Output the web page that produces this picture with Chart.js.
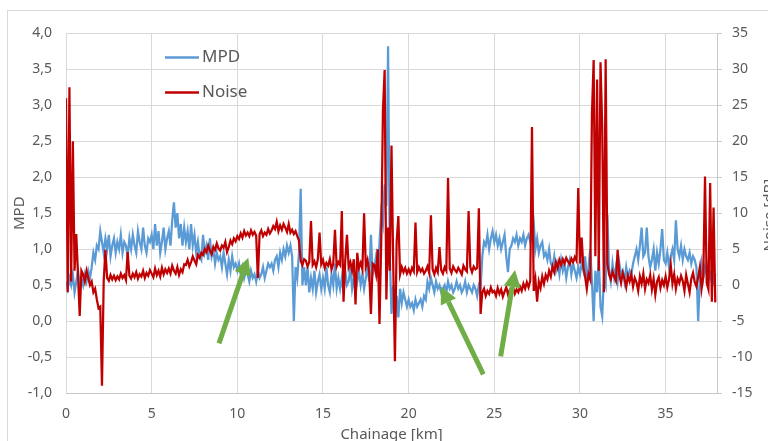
<!DOCTYPE html>
<html>
<head>
<meta charset="utf-8">
<script src="https://cdn.jsdelivr.net/npm/chart.js@4.4.0/dist/chart.umd.min.js"></script>
<style>
  html, body { margin: 0; padding: 0; background: #fff; overflow: hidden; }
  #frame { position: absolute; left: 7px; top: 10px; width: 800px; height: 460px; border: 1px solid #d9d9d9; }
  #box { position: absolute; left: 0; top: 0; width: 790px; height: 440px; }
</style>
</head>
<body>
<div id="frame"><div id="box"><canvas id="myChart"></canvas></div></div>
<script>
// chainage step between samples [km]
const step = 0.1;

// MPD [mm], one row per km
const mpd = [
  0.55,0.45,0.6,0.5,0.65,0.4,0.55,0.7,0.5,0.6,
  0.5,0.65,0.55,0.7,0.6,0.75,0.95,0.85,1.05,1.0,
  1.25,1.1,0.95,1.15,1.0,1.2,0.9,1.05,1.15,0.95,
  1.1,1.0,1.2,0.95,1.1,1.05,0.9,1.15,1.0,1.2,
  1.05,0.95,1.25,1.1,1.0,1.3,1.05,0.95,1.15,1.1,
  1.2,1.0,1.35,1.05,1.25,0.95,1.1,1.3,1.0,1.15,
  1.25,1.05,1.4,1.65,1.3,1.5,1.15,1.35,1.05,1.3,
  1.1,1.25,1.0,1.35,1.05,1.2,0.95,1.1,0.9,0.85,
  1.2,0.95,1.05,0.85,1.15,0.9,1.0,0.8,0.95,0.85,
  0.9,0.75,0.95,0.8,0.65,0.85,0.7,0.9,0.75,0.8,
  0.7,0.8,0.65,0.75,0.6,0.7,0.65,0.55,0.7,0.6,
  0.65,0.55,0.7,0.6,0.65,0.75,0.6,0.7,0.8,0.75,
  0.8,0.7,0.85,0.9,0.75,0.95,0.85,1.0,0.9,1.05,
  0.95,1.05,0.9,0.0,0.75,0.6,0.95,1.84,0.5,0.75,
  0.5,0.75,0.4,0.6,0.45,0.7,0.4,0.55,0.65,0.45,
  0.6,0.45,0.75,0.5,0.4,0.65,0.5,0.8,0.45,0.6,
  0.45,0.6,0.4,0.7,0.5,0.55,0.75,0.45,0.6,0.4,
  0.55,0.7,0.5,0.65,0.45,0.6,0.75,0.55,1.2,0.65,
  0.75,0.9,0.6,1.1,1.5,1.35,1.9,1.6,3.82,0.9,
  0.1,0.5,0.0,0.35,0.05,0.45,0.25,0.4,0.3,0.2,
  0.3,0.2,0.25,0.15,0.3,0.2,0.25,0.3,0.2,0.35,
  0.3,0.55,0.45,0.6,0.5,0.4,0.55,0.45,0.5,0.4,
  0.45,0.5,0.4,0.55,0.45,0.5,0.4,0.45,0.55,0.45,
  0.5,0.4,0.45,0.55,0.4,0.5,0.45,0.4,0.5,0.45,
  0.35,0.5,0.45,0.9,1.1,1.05,1.2,1.0,1.15,1.25,
  1.1,1.2,1.05,1.15,1.0,1.1,1.2,0.9,0.68,1.0,
  1.05,1.15,1.1,1.2,1.05,1.15,1.1,1.2,1.05,1.15,
  1.2,1.1,1.25,1.37,1.0,1.15,0.95,1.05,1.1,0.9,
  0.95,0.85,1.0,0.8,0.75,0.9,0.7,0.8,0.65,0.85,
  0.7,0.8,0.6,0.75,0.85,0.65,0.8,0.7,0.6,0.75,
  0.65,0.8,0.7,0.9,0.6,0.75,1.0,0.55,0.0,0.7,
  0.4,0.9,0.2,0.07,0.6,0.5,1.48,0.7,0.55,0.8,
  0.6,0.75,0.55,0.8,0.65,0.7,0.55,0.75,0.6,0.7,
  0.65,0.8,0.9,1.0,0.85,1.05,1.3,0.9,0.95,1.3,
  0.9,0.75,0.85,1.0,0.7,0.95,0.8,1.0,1.28,0.85,
  0.8,0.95,0.75,0.9,1.0,0.85,1.4,1.0,0.9,1.05,
  0.85,1.0,0.9,0.85,0.95,0.8,0.9,0.85,0.75,0.0,
  0.55,0.8,0.6,0.75,0.65,0.8,0.6,0.7,0.55,0.65
];

// Noise [dB], one row per km
const noise = [
  26,-1,27.5,0.5,20,2,7.1,1.5,-4.3,2,
  1.5,0.5,2,1,0,0.5,-1,-0.5,-2,-3.2,
  -3,-14,0.5,4.9,1.0,0.6,1.4,0.8,1.3,0.7,
  1.2,0.8,1.6,1.0,1.4,0.7,4.6,1.3,0.9,1.6,
  1.1,1.8,0.9,1.5,1.2,2.0,1.0,1.7,1.3,2.1,
  1.6,1.1,2.3,1.4,2.0,1.2,2.4,1.5,2.2,1.7,
  2.3,1.6,2.7,2.0,1.6,2.5,1.4,2.2,1.8,2.9,
  2.8,3.5,2.6,3.2,4,3.4,2.9,4.2,3.8,4.5,
  4.2,5,4.6,5.5,4.8,4.3,5.3,4.9,5.8,5.1,
  4.8,5.5,5.2,6,4.6,5.3,6.2,5.7,6.5,6.1,
  6.8,6.4,7.2,6.6,7.5,6.9,7.3,6.8,7.6,7,
  7.4,6.9,1,7.1,7.6,6.8,7.3,7,7.8,7.2,
  7.6,8.2,7.8,8.8,7.5,8.3,7.7,8.5,8,7.4,
  8.5,7.3,7.7,7.1,7.5,6.8,6.2,3.4,2.8,3.6,
  3.4,2.6,3.2,8.9,2.8,3.3,2.5,3.6,7.3,2.9,
  3.5,2.4,3.1,2.7,3.6,2.2,3,7.7,2.6,3.2,
  2.8,10.3,-2.3,3.4,7,2.5,3.2,2,3.6,-2.7,
  4.5,2.4,3.1,2.2,10,2.6,3.5,1.8,-4,3,
  2.8,1.5,5,-5.4,6,24.3,29.9,-2,8,2,
  19.4,3,-10.6,6,9.6,1.5,2.5,1.8,2.4,1.6,
  2.2,1.6,2.4,1.9,8.7,1.8,2.5,1.9,2.3,1.6,
  2,2.6,1.7,9.7,2.2,1.5,2.4,1.8,5.3,2.1,
  1.6,2.5,2,14.9,2.3,1.7,2.6,2.1,1.8,2.4,
  2,1.5,2.7,2.2,1.9,10.3,2.5,1.8,2.6,2.2,
  2.4,10.7,-4,-1,-0.5,-1.5,-0.8,-1.2,-0.3,-1,
  -0.8,-1.5,-0.4,-1.2,-0.6,-1.6,-0.9,-0.3,-1.3,-0.7,
  -0.9,-0.3,-1.2,-0.6,-1,-0.2,-0.8,0.2,-0.5,0.4,
  -0.3,0.6,22,-0.8,0.8,-2.3,0.5,-0.4,1.2,0.2,
  1.4,0.8,2,1.2,2.6,1.8,3.2,2.4,3.5,2.8,
  3.6,3,3.8,3.3,2.9,3.7,3.2,3.9,3.4,13.5,
  3,6.6,2.5,1.2,-0.5,1.5,0.8,23.8,31.3,4,
  28.6,2,31,22,-1,31.4,3,1.5,0.8,1.9,
  1.2,0.6,4.9,1.4,0.3,1.7,0.9,-0.3,1.3,0.5,
  1.5,-0.2,1,0.4,-0.8,1.2,0.2,1.6,-0.5,0.8,
  0.3,1.4,-0.6,0.9,-1.3,0.5,1.1,-0.4,0.7,0,
  1.2,-0.3,0.8,2.8,0.2,1.5,-0.5,0.9,0.3,1.3,
  0.6,-0.8,1.4,0.2,-1,0.9,1.7,0.4,-0.2,1.1,
  2.5,-0.5,1.2,15.1,0.3,-0.6,14.2,-2.3,10.8,-2.4
];

// green arrows: [fromKm, fromMpd, toKm, toMpd]
const arrows = [
  [8.93, -0.31, 10.64, 0.88],
  [24.36, -0.74, 21.89, 0.48],
  [25.37, -0.49, 26.21, 0.71]
];

const textColor = "#595959";
const fontName = "'Noto Sans', 'Open Sans', sans-serif";

const mpdPoints = mpd.map((v, i) => ({ x: i * step, y: v }));
const noisePoints = noise.map((v, i) => ({ x: i * step, y: v }));

function drawArrow(ctx, x1, y1, x2, y2) {
  const ang = Math.atan2(y2 - y1, x2 - x1);
  const headLen = 17;
  const headHalf = 8.5;
  const bx = x2 - headLen * Math.cos(ang);
  const by = y2 - headLen * Math.sin(ang);
  ctx.save();
  ctx.strokeStyle = "#70ad47";
  ctx.fillStyle = "#70ad47";
  ctx.lineWidth = 5;
  ctx.beginPath();
  ctx.moveTo(x1, y1);
  ctx.lineTo(bx, by);
  ctx.stroke();
  ctx.beginPath();
  ctx.moveTo(x2, y2);
  ctx.lineTo(bx + headHalf * Math.sin(ang), by - headHalf * Math.cos(ang));
  ctx.lineTo(bx - headHalf * Math.sin(ang), by + headHalf * Math.cos(ang));
  ctx.closePath();
  ctx.fill();
  ctx.restore();
}

// legend, arrows and right axis title
const extras = {
  id: "extras",
  afterDatasetsDraw(chart) {
    const { ctx, scales } = chart;
    arrows.forEach((a) => {
      drawArrow(ctx, scales.x.getPixelForValue(a[0]), scales.y.getPixelForValue(a[1]),
        scales.x.getPixelForValue(a[2]), scales.y.getPixelForValue(a[3]));
    });
  },
  afterDraw(chart) {
    const { ctx, chartArea } = chart;
    ctx.save();
    // legend
    chart.data.datasets.forEach((ds, i) => {
      const y = chartArea.top + 24 + i * 35;
      ctx.strokeStyle = ds.borderColor;
      ctx.lineWidth = 2.5;
      ctx.beginPath();
      ctx.moveTo(chartArea.left + 99, y);
      ctx.lineTo(chartArea.left + 133, y);
      ctx.stroke();
      ctx.fillStyle = textColor;
      ctx.font = "17px " + fontName;
      ctx.textBaseline = "middle";
      ctx.textAlign = "left";
      ctx.fillText(ds.label, chartArea.left + 136, y);
    });
    // secondary axis title
    ctx.translate(chartArea.right + 53, (chartArea.top + chartArea.bottom) / 2 + 2);
    ctx.rotate(-Math.PI / 2);
    ctx.font = "15px " + fontName;
    ctx.textAlign = "center";
    ctx.textBaseline = "middle";
    ctx.fillText("Noise [dB]", 0, 0);
    ctx.restore();
  }
};

const ctx = document.getElementById("myChart");
const myChart = new Chart(ctx, {
  type: "line",
  data: {
    datasets: [
      {
        label: "MPD",
        data: mpdPoints,
        yAxisID: "y",
        borderColor: "#5b9bd5",
        borderWidth: 2.25,
        pointRadius: 0,
        tension: 0,
        order: 2
      },
      {
        label: "Noise",
        data: noisePoints,
        yAxisID: "y2",
        borderColor: "#c00000",
        borderWidth: 2.25,
        pointRadius: 0,
        tension: 0,
        order: 1
      }
    ]
  },
  options: {
    responsive: true,
    maintainAspectRatio: false,
    animation: false,
    devicePixelRatio: 1,
    layout: { padding: { top: 17, left: 0, right: 0, bottom: 0 } },
    plugins: {
      legend: { display: false },
      tooltip: { enabled: false }
    },
    scales: {
      x: {
        type: "linear",
        min: 0,
        max: 38,
        afterFit: (s) => { s.height = 58; },
        ticks: {
          stepSize: 5,
          includeBounds: false,
          maxRotation: 0,
          padding: 13,
          color: textColor,
          font: { family: fontName, size: 14 }
        },
        grid: { color: "#d9d9d9", drawTicks: false },
        border: { display: true, color: "#c8c8c8" },
        title: {
          display: true,
          text: "Chainage [km]",
          color: textColor,
          font: { family: fontName, size: 15 },
          padding: { top: 0, bottom: 7 }
        }
      },
      y: {
        position: "left",
        min: -1,
        max: 4,
        afterFit: (s) => { s.width = 58; },
        ticks: {
          stepSize: 0.5,
          padding: 14,
          color: textColor,
          font: { family: fontName, size: 14 },
          callback: (v) => v.toFixed(1).replace(".", ",")
        },
        grid: { color: "#d9d9d9", drawTicks: false },
        border: { display: false },
        title: {
          display: true,
          text: "MPD",
          color: textColor,
          font: { family: fontName, size: 15 },
          padding: { top: 3, bottom: 0 }
        }
      },
      y2: {
        position: "right",
        min: -15,
        max: 35,
        afterFit: (s) => { s.width = 81; },
        ticks: {
          stepSize: 5,
          padding: 10,
          color: textColor,
          font: { family: fontName, size: 14 }
        },
        grid: { drawOnChartArea: false, drawTicks: true, tickLength: 5, color: "#c8c8c8" },
        border: { display: true, color: "#c8c8c8" }
      }
    }
  },
  plugins: [extras]
});
</script>
</body>
</html>
